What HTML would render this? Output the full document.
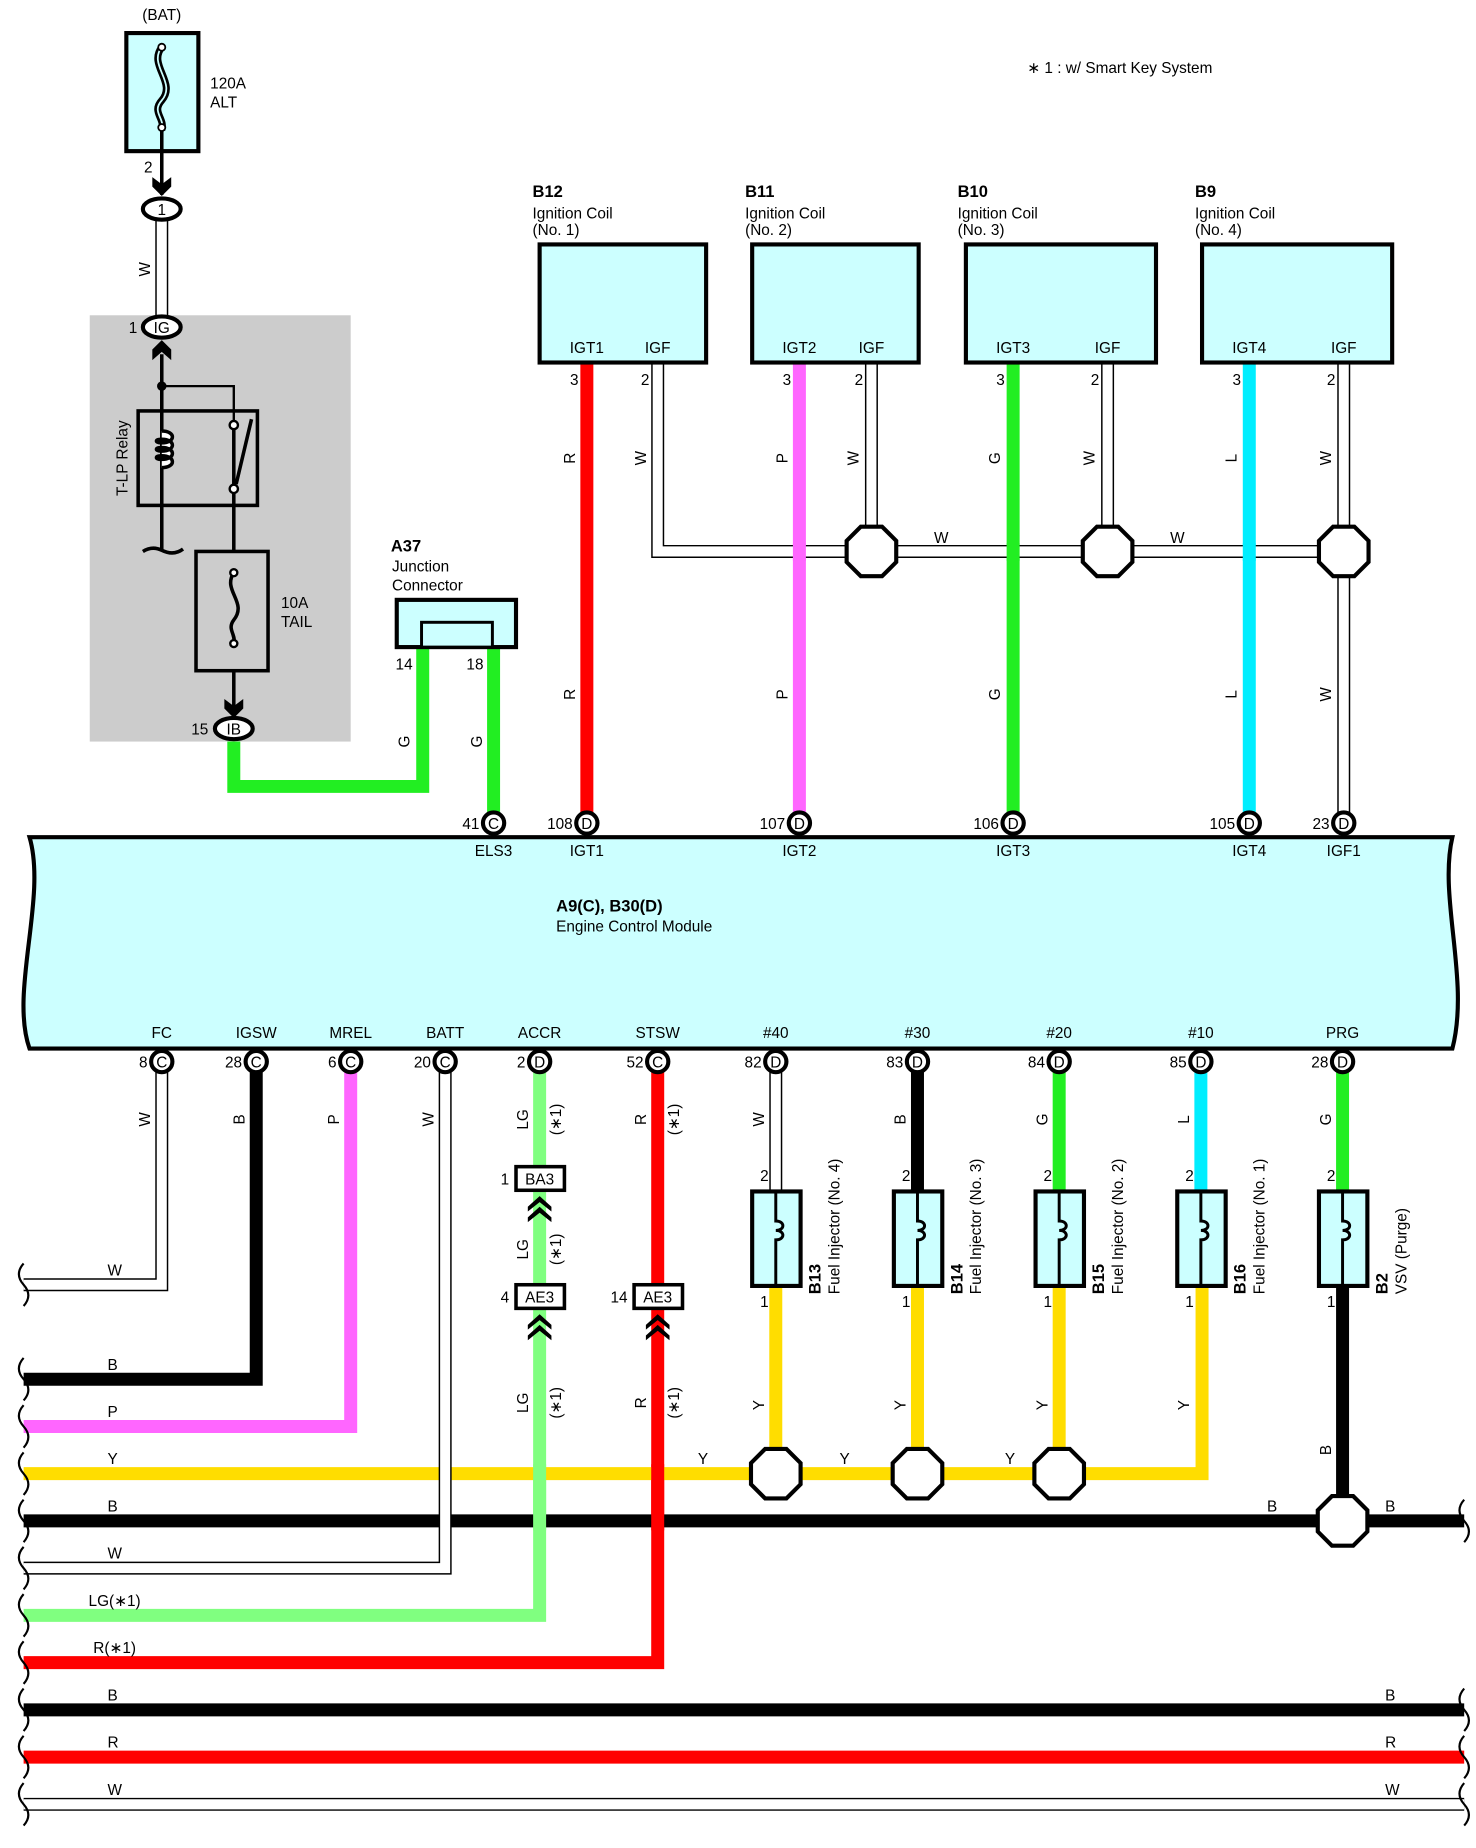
<!DOCTYPE html>
<html><head><meta charset="utf-8"><style>
html,body{margin:0;padding:0;background:#fff}
svg{display:block}
text{font-family:"Liberation Sans",sans-serif;font-size:13px;fill:#000}
.b{font-weight:bold;font-size:14px}
.wo{stroke:#000;stroke-width:11;fill:none}
.wi{stroke:#fff;stroke-width:8.5;fill:none}
.box{fill:#ccffff;stroke:#000;stroke-width:3.5}
.oct{fill:#fff;stroke:#000;stroke-width:3.5}
.pin{fill:#fff;stroke:#000;stroke-width:3.5}
.brk{fill:none;stroke:#000;stroke-width:1.8}
</style></head><body>
<svg width="1476" height="1848" viewBox="0 0 1250 1565" preserveAspectRatio="none" xmlns="http://www.w3.org/2000/svg">
<defs>
<path id="octp" d="M-9,-21 L9,-21 L21,-9 L21,9 L9,21 L-9,21 L-21,9 L-21,-9 Z"/>
</defs>
<!-- gray relay block -->
<rect x="76" y="267" width="221" height="361" fill="#cccccc"/>
<text x="137" y="17" text-anchor="middle">(BAT)</text>
<rect x="107" y="28" width="61" height="100" class="box"/>
<path d="M137,40 C125,55 150,70 137,85 C128,95 140,100 137,110" fill="none" stroke="#000" stroke-width="6"/>
<path d="M137,40 C125,55 150,70 137,85 C128,95 140,100 137,110" fill="none" stroke="#ccffff" stroke-width="1.5"/>
<circle cx="137" cy="40" r="3" fill="#fff" stroke="#000" stroke-width="1.5"/>
<circle cx="137" cy="108" r="3" fill="#fff" stroke="#000" stroke-width="1.5"/>
<text x="178" y="75">120A</text><text x="178" y="91">ALT</text>
<text x="122" y="146">2</text>
<line x1="137" y1="111" x2="137" y2="165" stroke="#000" stroke-width="3"/>
<path d="M129,150 L137,156 L145,150 L145,158 L137,166 L129,158 Z"/>
<!-- W wire -->
<line x1="137" y1="186" x2="137" y2="268" class="wo"/><line x1="137" y1="186" x2="137" y2="268" class="wi"/>
<text transform="translate(127,228) rotate(-90)" text-anchor="middle">W</text>
<ellipse cx="137" cy="177" rx="16" ry="9" fill="#fff" stroke="#000" stroke-width="3.5"/>
<text x="137" y="182" text-anchor="middle" font-size="12">1</text>
<ellipse cx="137" cy="277" rx="16" ry="9" fill="#fff" stroke="#000" stroke-width="3.5"/>
<text x="137" y="282" text-anchor="middle" font-size="12">IG</text>
<text x="109" y="282">1</text>
<path d="M129,305 L137,298 L145,305 L145,296 L137,288 L129,296 Z"/>
<!-- relay -->
<line x1="137" y1="300" x2="137" y2="465" stroke="#000" stroke-width="3"/>
<circle cx="137" cy="327" r="4"/>
<polyline points="137,327 198,327 198,358" fill="none" stroke="#000" stroke-width="2"/>
<rect x="117" y="348" width="101" height="80" fill="none" stroke="#000" stroke-width="3"/>
<path d="M137,365 c12,0 12,10 0,10 c-6,0 -6,-3 0,-3 c12,0 12,10 0,10 c-6,0 -6,-3 0,-3 c12,0 12,10 0,10 c-6,0 -6,-3 0,-3 c12,0 12,10 0,10" fill="#fff" stroke="#000" stroke-width="3"/>
<text transform="translate(108,388) rotate(-90)" text-anchor="middle">T-LP Relay</text>
<path d="M121,467 q8,-5 16,-1 q10,5 18,-1" fill="none" stroke="#000" stroke-width="3"/>
<line x1="198" y1="362" x2="198" y2="467" stroke="#000" stroke-width="3"/>
<line x1="213" y1="355" x2="200" y2="410" stroke="#000" stroke-width="3"/>
<circle cx="198" cy="360" r="3.5" fill="#fff" stroke="#000" stroke-width="2"/>
<circle cx="198" cy="414" r="3.5" fill="#fff" stroke="#000" stroke-width="2"/>
<rect x="166" y="467" width="61" height="101" fill="none" stroke="#000" stroke-width="3"/>
<path d="M198,485 C188,500 210,510 198,525 C192,533 200,537 198,545" fill="none" stroke="#000" stroke-width="3"/>
<circle cx="198" cy="485" r="3" fill="#fff" stroke="#000" stroke-width="2"/>
<circle cx="198" cy="545" r="3" fill="#fff" stroke="#000" stroke-width="2"/>
<text x="238" y="515">10A</text><text x="238" y="531">TAIL</text>
<line x1="198" y1="568" x2="198" y2="605" stroke="#000" stroke-width="3"/>
<path d="M190,592 L198,598 L206,592 L206,600 L198,608 L190,600 Z"/>
<!-- green from IB -->
<polyline points="198,628 198,666 358,666 358,548" fill="none" stroke="#22ee22" stroke-width="11"/>
<line x1="418" y1="548" x2="418" y2="690" stroke="#22ee22" stroke-width="11"/>
<ellipse cx="198" cy="617" rx="16" ry="9" fill="#fff" stroke="#000" stroke-width="3.5"/>
<text x="198" y="622" text-anchor="middle" font-size="12">IB</text>
<text x="162" y="622">15</text>
<text x="331" y="467" class="b">A37</text>
<text x="332" y="484">Junction</text><text x="332" y="500">Connector</text>
<rect x="336" y="508" width="101" height="40" class="box"/>
<rect x="357" y="527" width="60" height="21" fill="#ccffff" stroke="#000" stroke-width="2.5"/>
<text x="335" y="567">14</text><text x="395" y="567">18</text>
<text transform="translate(347,628) rotate(-90)" text-anchor="middle">G</text>
<text transform="translate(408,628) rotate(-90)" text-anchor="middle">G</text>
<text x="870" y="62">∗ 1 : w/ Smart Key System</text>

<!-- ignition coils wires -->
<line x1="497" y1="307" x2="497" y2="690" stroke="#ff0000" stroke-width="11"/>
<line x1="677" y1="307" x2="677" y2="690" stroke="#ff66ff" stroke-width="11"/>
<line x1="858" y1="307" x2="858" y2="690" stroke="#22ee22" stroke-width="11"/>
<line x1="1058" y1="307" x2="1058" y2="690" stroke="#00eeff" stroke-width="11"/>
<g>
<polyline points="557,307 557,467 1138,467" class="wo"/>
<line x1="738" y1="307" x2="738" y2="467" class="wo"/>
<line x1="938" y1="307" x2="938" y2="467" class="wo"/>
<line x1="1138" y1="307" x2="1138" y2="690" class="wo"/>
<polyline points="557,307 557,467 1138,467" class="wi"/>
<line x1="738" y1="307" x2="738" y2="467" class="wi"/>
<line x1="938" y1="307" x2="938" y2="467" class="wi"/>
<line x1="1138" y1="307" x2="1138" y2="690" class="wi"/>
</g>
<line x1="677" y1="460" x2="677" y2="475" stroke="#ff66ff" stroke-width="11"/>
<line x1="858" y1="460" x2="858" y2="475" stroke="#22ee22" stroke-width="11"/>
<line x1="1058" y1="460" x2="1058" y2="475" stroke="#00eeff" stroke-width="11"/>
<use href="#octp" x="738" y="467" class="oct"/>
<use href="#octp" x="938" y="467" class="oct"/>
<use href="#octp" x="1138" y="467" class="oct"/>
<text x="791" y="460">W</text><text x="991" y="460">W</text>

<rect x="457" y="207" width="141" height="100" class="box"/>
<rect x="637" y="207" width="141" height="100" class="box"/>
<rect x="818" y="207" width="161" height="100" class="box"/>
<rect x="1018" y="207" width="161" height="100" class="box"/>
<text x="451" y="167" class="b">B12</text><text x="451" y="185">Ignition Coil</text><text x="451" y="199">(No. 1)</text>
<text x="631" y="167" class="b">B11</text><text x="631" y="185">Ignition Coil</text><text x="631" y="199">(No. 2)</text>
<text x="811" y="167" class="b">B10</text><text x="811" y="185">Ignition Coil</text><text x="811" y="199">(No. 3)</text>
<text x="1012" y="167" class="b">B9</text><text x="1012" y="185">Ignition Coil</text><text x="1012" y="199">(No. 4)</text>
<g text-anchor="middle">
<text x="497" y="299">IGT1</text><text x="557" y="299">IGF</text>
<text x="677" y="299">IGT2</text><text x="738" y="299">IGF</text>
<text x="858" y="299">IGT3</text><text x="938" y="299">IGF</text>
<text x="1058" y="299">IGT4</text><text x="1138" y="299">IGF</text>
</g>
<g text-anchor="end">
<text x="490" y="326">3</text><text x="550" y="326">2</text>
<text x="670" y="326">3</text><text x="731" y="326">2</text>
<text x="851" y="326">3</text><text x="931" y="326">2</text>
<text x="1051" y="326">3</text><text x="1131" y="326">2</text>
</g>
<g text-anchor="middle">
<text transform="translate(487,388) rotate(-90)">R</text><text transform="translate(487,588) rotate(-90)">R</text>
<text transform="translate(547,388) rotate(-90)">W</text>
<text transform="translate(667,388) rotate(-90)">P</text><text transform="translate(667,588) rotate(-90)">P</text>
<text transform="translate(727,388) rotate(-90)">W</text>
<text transform="translate(847,388) rotate(-90)">G</text><text transform="translate(847,588) rotate(-90)">G</text>
<text transform="translate(927,388) rotate(-90)">W</text>
<text transform="translate(1047,388) rotate(-90)">L</text><text transform="translate(1047,588) rotate(-90)">L</text>
<text transform="translate(1127,388) rotate(-90)">W</text><text transform="translate(1127,588) rotate(-90)">W</text>
</g>

<!-- ECM -->
<path d="M25,709 L1230,709 C1218,760 1245,830 1230,888 L25,888 C8,840 40,760 25,709 Z" fill="#ccffff" stroke="#000" stroke-width="3.5"/>
<text x="471" y="772" class="b" font-size="13">A9(C), B30(D)</text>
<text x="471" y="789">Engine Control Module</text>
<g class="pin">
<circle cx="418" cy="697" r="9"/><circle cx="497" cy="697" r="9"/><circle cx="677" cy="697" r="9"/><circle cx="858" cy="697" r="9"/><circle cx="1058" cy="697" r="9"/><circle cx="1138" cy="697" r="9"/>
</g>
<g text-anchor="middle" font-size="12">
<text x="418" y="702">C</text><text x="497" y="702">D</text><text x="677" y="702">D</text><text x="858" y="702">D</text><text x="1058" y="702">D</text><text x="1138" y="702">D</text>
</g>
<g text-anchor="end">
<text x="406" y="702">41</text><text x="485" y="702">108</text><text x="665" y="702">107</text><text x="846" y="702">106</text><text x="1046" y="702">105</text><text x="1126" y="702">23</text>
</g>
<g text-anchor="middle">
<text x="418" y="725">ELS3</text><text x="497" y="725">IGT1</text><text x="677" y="725">IGT2</text><text x="858" y="725">IGT3</text><text x="1058" y="725">IGT4</text><text x="1138" y="725">IGF1</text>
<text x="137" y="879">FC</text><text x="217" y="879">IGSW</text><text x="297" y="879">MREL</text><text x="377" y="879">BATT</text><text x="457" y="879">ACCR</text><text x="557" y="879">STSW</text><text x="657" y="879">#40</text><text x="777" y="879">#30</text><text x="897" y="879">#20</text><text x="1017" y="879">#10</text><text x="1137" y="879">PRG</text>
</g>

<!-- bottom wires -->
<!-- full width -->
<line x1="20" y1="1448" x2="1240" y2="1448" stroke="#000" stroke-width="11"/>
<line x1="20" y1="1488" x2="1240" y2="1488" stroke="#ff0000" stroke-width="11"/>
<line x1="20" y1="1528" x2="1240" y2="1528" class="wo"/><line x1="20" y1="1528" x2="1240" y2="1528" class="wi"/>
<!-- R STSW -->
<polyline points="557,899 557,1408 20,1408" fill="none" stroke="#ff0000" stroke-width="11"/>
<!-- LG ACCR -->
<polyline points="457,899 457,1368 20,1368" fill="none" stroke="#80ff80" stroke-width="11"/>
<!-- B bus -->
<line x1="20" y1="1288" x2="1240" y2="1288" stroke="#000" stroke-width="11"/>
<line x1="1137" y1="1090" x2="1137" y2="1288" stroke="#000" stroke-width="11"/>
<!-- Y bus -->
<polyline points="20,1248 1018,1248 1018,1090" fill="none" stroke="#ffdd00" stroke-width="11"/>
<line x1="657" y1="1090" x2="657" y2="1248" stroke="#ffdd00" stroke-width="11"/>
<line x1="777" y1="1090" x2="777" y2="1248" stroke="#ffdd00" stroke-width="11"/>
<line x1="897" y1="1090" x2="897" y2="1248" stroke="#ffdd00" stroke-width="11"/>
<!-- LG and R crossing over buses -->
<line x1="457" y1="1240" x2="457" y2="1296" stroke="#80ff80" stroke-width="11"/>
<line x1="557" y1="1240" x2="557" y2="1296" stroke="#ff0000" stroke-width="11"/>
<!-- BATT W -->
<polyline points="377,899 377,1328 20,1328" class="wo"/><polyline points="377,899 377,1328 20,1328" class="wi"/>
<!-- P MREL -->
<polyline points="297,899 297,1208 20,1208" fill="none" stroke="#ff66ff" stroke-width="11"/>
<!-- B IGSW -->
<polyline points="217,899 217,1168 20,1168" fill="none" stroke="#000" stroke-width="11"/>
<!-- W FC -->
<polyline points="137,899 137,1088 20,1088" class="wo"/><polyline points="137,899 137,1088 20,1088" class="wi"/>
<!-- injector top wires -->
<line x1="657" y1="899" x2="657" y2="1010" class="wo"/><line x1="657" y1="899" x2="657" y2="1010" class="wi"/>
<line x1="777" y1="899" x2="777" y2="1010" stroke="#000" stroke-width="11"/>
<line x1="897" y1="899" x2="897" y2="1010" stroke="#22ee22" stroke-width="11"/>
<line x1="1017" y1="899" x2="1017" y2="1010" stroke="#00eeff" stroke-width="11"/>
<line x1="1137" y1="899" x2="1137" y2="1010" stroke="#22ee22" stroke-width="11"/>
<!-- octagons -->
<use href="#octp" x="657" y="1248" class="oct"/>
<use href="#octp" x="777" y="1248" class="oct"/>
<use href="#octp" x="897" y="1248" class="oct"/>
<use href="#octp" x="1137" y="1288" class="oct"/>
<!-- pins -->
<g class="pin">
<circle cx="137" cy="899" r="9"/><circle cx="217" cy="899" r="9"/><circle cx="297" cy="899" r="9"/><circle cx="377" cy="899" r="9"/><circle cx="457" cy="899" r="9"/><circle cx="557" cy="899" r="9"/><circle cx="657" cy="899" r="9"/><circle cx="777" cy="899" r="9"/><circle cx="897" cy="899" r="9"/><circle cx="1017" cy="899" r="9"/><circle cx="1137" cy="899" r="9"/>
</g>
<g text-anchor="middle" font-size="12">
<text x="137" y="904">C</text><text x="217" y="904">C</text><text x="297" y="904">C</text><text x="377" y="904">C</text><text x="457" y="904">D</text><text x="557" y="904">C</text><text x="657" y="904">D</text><text x="777" y="904">D</text><text x="897" y="904">D</text><text x="1017" y="904">D</text><text x="1137" y="904">D</text>
</g>
<g text-anchor="end">
<text x="125" y="904">8</text><text x="205" y="904">28</text><text x="285" y="904">6</text><text x="365" y="904">20</text><text x="445" y="904">2</text><text x="545" y="904">52</text><text x="645" y="904">82</text><text x="765" y="904">83</text><text x="885" y="904">84</text><text x="1005" y="904">85</text><text x="1125" y="904">28</text>
</g>
<!-- inline connectors -->
<rect x="437" y="988" width="41" height="20" fill="#fff" stroke="#000" stroke-width="3"/>
<text x="457" y="1003" text-anchor="middle">BA3</text><text x="424" y="1003">1</text>
<path d="M447,1022 L457,1013 L467,1022 L467,1026 L457,1018 L447,1026 Z M447,1031 L457,1022 L467,1031 L467,1035 L457,1027 L447,1035 Z"/>
<rect x="437" y="1088" width="41" height="20" fill="#fff" stroke="#000" stroke-width="3"/>
<text x="457" y="1103" text-anchor="middle">AE3</text><text x="424" y="1103">4</text>
<path d="M447,1122 L457,1113 L467,1122 L467,1126 L457,1118 L447,1126 Z M447,1131 L457,1122 L467,1131 L467,1135 L457,1127 L447,1135 Z"/>
<rect x="537" y="1088" width="41" height="20" fill="#fff" stroke="#000" stroke-width="3"/>
<text x="557" y="1103" text-anchor="middle">AE3</text><text x="517" y="1103">14</text>
<path d="M547,1122 L557,1113 L567,1122 L567,1126 L557,1118 L547,1126 Z M547,1131 L557,1122 L567,1131 L567,1135 L557,1127 L547,1135 Z"/>
<!-- injectors -->
<g>
<rect x="637" y="1009" width="41" height="80" class="box"/>
<rect x="757" y="1009" width="41" height="80" class="box"/>
<rect x="877" y="1009" width="41" height="80" class="box"/>
<rect x="997" y="1009" width="41" height="80" class="box"/>
<rect x="1117" y="1009" width="41" height="80" class="box"/>
</g>
<g fill="none" stroke="#000" stroke-width="2.5">
<path d="M657,1009 v25 c8,0 8,8 0,8 c8,0 8,8 0,8 v39"/>
<path d="M777,1009 v25 c8,0 8,8 0,8 c8,0 8,8 0,8 v39"/>
<path d="M897,1009 v25 c8,0 8,8 0,8 c8,0 8,8 0,8 v39"/>
<path d="M1017,1009 v25 c8,0 8,8 0,8 c8,0 8,8 0,8 v39"/>
<path d="M1137,1009 v25 c8,0 8,8 0,8 c8,0 8,8 0,8 v39"/>
</g>
<g text-anchor="end">
<text x="651" y="1000">2</text><text x="771" y="1000">2</text><text x="891" y="1000">2</text><text x="1011" y="1000">2</text><text x="1131" y="1000">2</text>
<text x="651" y="1107">1</text><text x="771" y="1107">1</text><text x="891" y="1107">1</text><text x="1011" y="1107">1</text><text x="1131" y="1107">1</text>
</g>
<g>
<text transform="translate(695,1096) rotate(-90)" class="b" font-size="13">B13</text><text transform="translate(711,1096) rotate(-90)">Fuel Injector (No. 4)</text>
<text transform="translate(815,1096) rotate(-90)" class="b" font-size="13">B14</text><text transform="translate(831,1096) rotate(-90)">Fuel Injector (No. 3)</text>
<text transform="translate(935,1096) rotate(-90)" class="b" font-size="13">B15</text><text transform="translate(951,1096) rotate(-90)">Fuel Injector (No. 2)</text>
<text transform="translate(1055,1096) rotate(-90)" class="b" font-size="13">B16</text><text transform="translate(1071,1096) rotate(-90)">Fuel Injector (No. 1)</text>
<text transform="translate(1175,1096) rotate(-90)" class="b" font-size="13">B2</text><text transform="translate(1191,1096) rotate(-90)">VSV (Purge)</text>
</g>
<!-- rotated wire labels -->
<g text-anchor="middle">
<text transform="translate(127,948) rotate(-90)">W</text>
<text transform="translate(207,948) rotate(-90)">B</text>
<text transform="translate(287,948) rotate(-90)">P</text>
<text transform="translate(367,948) rotate(-90)">W</text>
<text transform="translate(447,948) rotate(-90)">LG</text><text transform="translate(475,948) rotate(-90)">(∗1)</text>
<text transform="translate(447,1058) rotate(-90)">LG</text><text transform="translate(475,1058) rotate(-90)">(∗1)</text>
<text transform="translate(447,1188) rotate(-90)">LG</text><text transform="translate(475,1188) rotate(-90)">(∗1)</text>
<text transform="translate(547,948) rotate(-90)">R</text><text transform="translate(575,948) rotate(-90)">(∗1)</text>
<text transform="translate(547,1188) rotate(-90)">R</text><text transform="translate(575,1188) rotate(-90)">(∗1)</text>
<text transform="translate(647,948) rotate(-90)">W</text>
<text transform="translate(767,948) rotate(-90)">B</text>
<text transform="translate(887,948) rotate(-90)">G</text>
<text transform="translate(1007,948) rotate(-90)">L</text>
<text transform="translate(1127,948) rotate(-90)">G</text>
<text transform="translate(647,1190) rotate(-90)">Y</text>
<text transform="translate(767,1190) rotate(-90)">Y</text>
<text transform="translate(887,1190) rotate(-90)">Y</text>
<text transform="translate(1007,1190) rotate(-90)">Y</text>
<text transform="translate(1127,1228) rotate(-90)">B</text>
</g>
<g>
<text x="91" y="1080">W</text><text x="91" y="1160">B</text><text x="91" y="1200">P</text><text x="91" y="1240">Y</text><text x="91" y="1280">B</text><text x="91" y="1320">W</text><text x="75" y="1360">LG(∗1)</text><text x="79" y="1400">R(∗1)</text><text x="91" y="1440">B</text><text x="91" y="1480">R</text><text x="91" y="1520">W</text>
<text x="591" y="1240">Y</text><text x="711" y="1240">Y</text><text x="851" y="1240">Y</text>
<text x="1073" y="1280">B</text><text x="1173" y="1280">B</text><text x="1173" y="1440">B</text><text x="1173" y="1480">R</text><text x="1173" y="1520">W</text>
</g>
<!-- break marks -->
<g class="brk">
<path d="M20,1070 q-8,9 0,18 q8,9 0,18"/>
<path d="M20,1150 q-8,9 0,18 q8,9 0,18"/>
<path d="M20,1190 q-8,9 0,18 q8,9 0,18"/>
<path d="M20,1230 q-8,9 0,18 q8,9 0,18"/>
<path d="M20,1270 q-8,9 0,18 q8,9 0,18"/>
<path d="M20,1310 q-8,9 0,18 q8,9 0,18"/>
<path d="M20,1350 q-8,9 0,18 q8,9 0,18"/>
<path d="M20,1390 q-8,9 0,18 q8,9 0,18"/>
<path d="M20,1430 q-8,9 0,18 q8,9 0,18"/>
<path d="M20,1470 q-8,9 0,18 q8,9 0,18"/>
<path d="M20,1510 q-8,9 0,18 q8,9 0,18"/>
<path d="M1240,1270 q-8,9 0,18 q8,9 0,18"/>
<path d="M1240,1430 q-8,9 0,18 q8,9 0,18"/>
<path d="M1240,1470 q-8,9 0,18 q8,9 0,18"/>
<path d="M1240,1510 q-8,9 0,18 q8,9 0,18"/>
</g>
</svg>
</body></html>
